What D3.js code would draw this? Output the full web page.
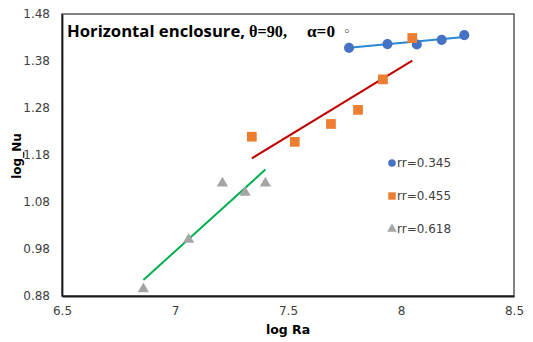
<!DOCTYPE html>
<html>
<head>
<meta charset="utf-8">
<script src="https://cdn.jsdelivr.net/npm/d3@7"></script>
<style>
  body { margin: 0; background: #fff; }
  svg { display: block; }
  .tick text { font-family: "DejaVu Sans", sans-serif; font-size: 12px; fill: #404040; }
</style>
</head>
<body>
<div id="grafico"></div>
<script>
// data
var xTicks = [6.5, 7, 7.5, 8, 8.5];
var yTicks = [0.88, 0.98, 1.08, 1.18, 1.28, 1.38, 1.48];

var seriesNames = ["rr=0.345", "rr=0.455", "rr=0.618"];

var logRa_345 = [7.77, 7.94, 8.07, 8.18, 8.28];
var logNu_345 = [1.408, 1.416, 1.415, 1.425, 1.435];
var logRa_455 = [7.34, 7.53, 7.69, 7.81, 7.92, 8.05];
var logNu_455 = [1.219, 1.208, 1.246, 1.276, 1.341, 1.429];
var logRa_618 = [6.86, 7.06, 7.21, 7.31, 7.40];
var logNu_618 = [0.895, 1.0, 1.12, 1.10, 1.12];

// trend line end points
var fitRa_345 = [7.77, 8.28], fitNu_345 = [1.408, 1.431];
var fitRa_455 = [7.34, 8.05], fitNu_455 = [1.173, 1.381];
var fitRa_618 = [6.86, 7.40], fitNu_618 = [0.914, 1.149];

var W = 533, H = 342;
var margin = {top: 14, right: 19, bottom: 46, left: 62},
    width = W - margin.left - margin.right,
    height = H - margin.top - margin.bottom;

var svg = d3.select("#grafico").append("svg")
    .attr("width", W)
    .attr("height", H)
  .append("g")
    .attr("transform", "translate(" + margin.left + "," + margin.top + ")");

var x = d3.scaleLinear().domain([6.5, 8.5]).range([0, width]);
var y = d3.scaleLinear().domain([0.88, 1.48]).range([height, 0]);

// plot box
svg.append("rect")
    .attr("x", 0).attr("y", 0)
    .attr("width", width).attr("height", height)
    .style("fill", "none")
    .style("stroke", "#5a5a5a")
    .style("stroke-width", 1.5);

// axes
svg.append("g")
    .attr("class", "axis")
    .call(d3.axisLeft(y).tickValues(yTicks).tickSize(0).tickPadding(12)
          .tickFormat(function(d) { return d.toFixed(2); }))
    .call(function(g) { g.select(".domain").attr("stroke", "#1a1a1a").attr("stroke-width", 1.8); });

svg.append("g")
    .attr("class", "axis")
    .attr("transform", "translate(0," + height + ")")
    .call(d3.axisBottom(x).tickValues(xTicks).tickSize(0).tickPadding(10)
          .tickFormat(function(d) { return d; }))
    .call(function(g) { g.select(".domain").attr("stroke", "#1a1a1a").attr("stroke-width", 1.8); });

// trend lines
var line = d3.line()
    .x(function(d) { return x(d[0]); })
    .y(function(d) { return y(d[1]); });

function pairs(a, b) { return a.map(function(v, i) { return [v, b[i]]; }); }

svg.append("path").datum(pairs(fitRa_345, fitNu_345))
    .attr("d", line).style("fill", "none").style("stroke", "#2a87d3").style("stroke-width", 2);
svg.append("path").datum(pairs(fitRa_455, fitNu_455))
    .attr("d", line).style("fill", "none").style("stroke", "#c00000").style("stroke-width", 2);
svg.append("path").datum(pairs(fitRa_618, fitNu_618))
    .attr("d", line).style("fill", "none").style("stroke", "#00b050").style("stroke-width", 2);

// markers
var circ = d3.symbol().type(d3.symbolCircle).size(80);
var sq = d3.symbol().type(d3.symbolSquare).size(95);
var tri = d3.symbol().type(d3.symbolTriangle).size(55);

svg.selectAll(".s618").data(pairs(logRa_618, logNu_618)).enter()
    .append("path").attr("class", "s618")
    .attr("d", tri)
    .attr("transform", function(d) { return "translate(" + x(d[0]) + "," + y(d[1]) + ")"; })
    .style("fill", "#a5a5a5");

svg.selectAll(".s345").data(pairs(logRa_345, logNu_345)).enter()
    .append("path").attr("class", "s345")
    .attr("d", circ)
    .attr("transform", function(d) { return "translate(" + x(d[0]) + "," + y(d[1]) + ")"; })
    .style("fill", "#4472c4");

svg.selectAll(".s455").data(pairs(logRa_455, logNu_455)).enter()
    .append("path").attr("class", "s455")
    .attr("d", sq)
    .attr("transform", function(d) { return "translate(" + x(d[0]) + "," + y(d[1]) + ")"; })
    .style("fill", "#ed7d31");

// legend
var legend = svg.append("g").attr("transform", "translate(330,149)");
var legSym = [d3.symbol().type(d3.symbolCircle).size(45),
              d3.symbol().type(d3.symbolSquare).size(55),
              d3.symbol().type(d3.symbolTriangle).size(40)];
var legCol = ["#4472c4", "#ed7d31", "#a5a5a5"];
seriesNames.forEach(function(n, i) {
    var row = legend.append("g").attr("transform", "translate(0," + (i * 33) + ")");
    row.append("path").attr("d", legSym[i]).style("fill", legCol[i]);
    row.append("text").attr("x", 5).attr("dy", "0.35em")
        .style("font-family", "DejaVu Sans, sans-serif")
        .style("font-size", "12px").style("fill", "#404040")
        .text(n);
});

// title
svg.append("text").attr("x", 5).attr("y", 23)
    .attr("textLength", 178).attr("lengthAdjust", "spacingAndGlyphs")
    .style("font-family", "Open Sans, sans-serif").style("font-size", "16px")
    .style("font-weight", "bold").style("fill", "#000")
    .text("Horizontal enclosure,");
svg.append("text").attr("x", 187).attr("y", 23)
    .attr("textLength", 38).attr("lengthAdjust", "spacingAndGlyphs")
    .style("font-family", "Liberation Serif, Times New Roman, serif").style("font-size", "17.5px")
    .style("font-weight", "bold").style("fill", "#000")
    .text("\u03b8=90,");
svg.append("text").attr("x", 245).attr("y", 23)
    .attr("textLength", 28).attr("lengthAdjust", "spacingAndGlyphs")
    .style("font-family", "Liberation Serif, Times New Roman, serif").style("font-size", "17.5px")
    .style("font-weight", "bold").style("fill", "#000")
    .text("\u03b1=0");
svg.append("text").attr("x", 281).attr("y", 22)
    .style("font-family", "DejaVu Sans, sans-serif").style("font-size", "13px")
    .style("fill", "#000")
    .text("\u25e6");

// axis titles
svg.append("text")
    .attr("x", width / 2).attr("y", height + 38)
    .attr("text-anchor", "middle")
    .style("font-family", "DejaVu Sans, sans-serif")
    .style("font-size", "12.5px").style("font-weight", "bold")
    .text("log Ra");

svg.append("text")
    .attr("transform", "translate(" + (-41) + "," + 142 + ") rotate(-90)")
    .attr("text-anchor", "middle")
    .style("font-family", "DejaVu Sans, sans-serif")
    .style("font-size", "12px").style("font-weight", "bold")
    .text("log_Nu");
</script>
</body>
</html>
